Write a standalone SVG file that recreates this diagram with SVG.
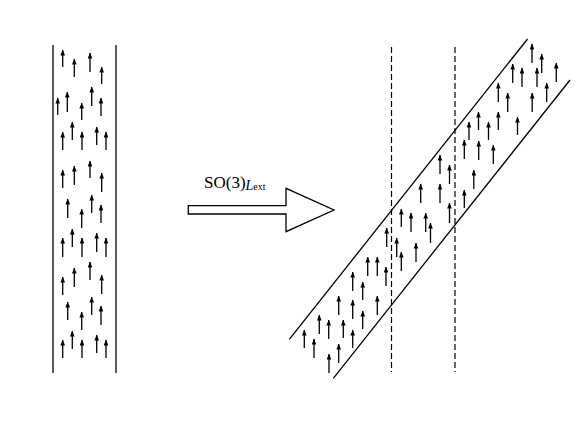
<svg xmlns="http://www.w3.org/2000/svg" width="581" height="436" viewBox="0 0 581 436">
<style>
.ln{stroke:#000;stroke-width:1.3;fill:none}
.dl{stroke:#000;stroke-width:1.2;fill:none;stroke-dasharray:6,3}
.ar{stroke:#000;stroke-width:1.3;fill:none;marker-end:url(#ah)}
.tx{font-family:"Liberation Serif","Times New Roman",serif;fill:#000}
</style>
<defs>
<marker id="ah" viewBox="0 0 6 4.6" refX="5.5" refY="2.3" markerWidth="6" markerHeight="4.6" markerUnits="userSpaceOnUse" orient="auto">
<path d="M0,0 L6,2.3 L0,4.6 z" fill="#000"/>
</marker>
</defs>
<rect width="581" height="436" fill="#fff"/>
<g id="left-column">
<line class="ln" x1="53" y1="45" x2="53" y2="373"/>
<line class="ln" x1="116" y1="45" x2="116" y2="373"/>
<g id="left-spins">
<line class="ar" x1="62.7" y1="67" x2="62.7" y2="50"/>
<line class="ar" x1="74.3" y1="77" x2="74.3" y2="59"/>
<line class="ar" x1="90" y1="72" x2="90" y2="53"/>
<line class="ar" x1="101.7" y1="84" x2="101.7" y2="67"/>
<line class="ar" x1="57.7" y1="115" x2="57.7" y2="98"/>
<line class="ar" x1="67.3" y1="112" x2="67.3" y2="92"/>
<line class="ar" x1="81.7" y1="120" x2="81.7" y2="103"/>
<line class="ar" x1="91.7" y1="106" x2="91.7" y2="87"/>
<line class="ar" x1="101" y1="116" x2="101" y2="98"/>
<line class="ar" x1="62.7" y1="150" x2="62.7" y2="132"/>
<line class="ar" x1="72.3" y1="140" x2="72.3" y2="122"/>
<line class="ar" x1="82" y1="150" x2="82" y2="132"/>
<line class="ar" x1="96.7" y1="145" x2="96.7" y2="127"/>
<line class="ar" x1="106" y1="150" x2="106" y2="132"/>
<line class="ar" x1="62.7" y1="188" x2="62.7" y2="170"/>
<line class="ar" x1="74.3" y1="185" x2="74.3" y2="166"/>
<line class="ar" x1="90" y1="178" x2="90" y2="161"/>
<line class="ar" x1="101.7" y1="192" x2="101.7" y2="173"/>
<line class="ar" x1="67.7" y1="218" x2="67.7" y2="199"/>
<line class="ar" x1="81.7" y1="228" x2="81.7" y2="209"/>
<line class="ar" x1="91.7" y1="213" x2="91.7" y2="195"/>
<line class="ar" x1="101" y1="223" x2="101" y2="205"/>
<line class="ar" x1="62.7" y1="257" x2="62.7" y2="238"/>
<line class="ar" x1="72.3" y1="247" x2="72.3" y2="229"/>
<line class="ar" x1="82" y1="257" x2="82" y2="238"/>
<line class="ar" x1="96.7" y1="252" x2="96.7" y2="233"/>
<line class="ar" x1="106" y1="257" x2="106" y2="238"/>
<line class="ar" x1="62.7" y1="295" x2="62.7" y2="277"/>
<line class="ar" x1="74.3" y1="287" x2="74.3" y2="268"/>
<line class="ar" x1="90" y1="280" x2="90" y2="262"/>
<line class="ar" x1="101.7" y1="294" x2="101.7" y2="275"/>
<line class="ar" x1="67.7" y1="320" x2="67.7" y2="302"/>
<line class="ar" x1="81.7" y1="330" x2="81.7" y2="312"/>
<line class="ar" x1="91.7" y1="315" x2="91.7" y2="297"/>
<line class="ar" x1="101" y1="325" x2="101" y2="306"/>
<line class="ar" x1="62.7" y1="358" x2="62.7" y2="340"/>
<line class="ar" x1="72.3" y1="349" x2="72.3" y2="331"/>
<line class="ar" x1="82" y1="358" x2="82" y2="340"/>
<line class="ar" x1="96.7" y1="353" x2="96.7" y2="335"/>
<line class="ar" x1="106" y1="358" x2="106" y2="340"/>
</g>
</g>
<g id="transform-arrow">
<path class="ln" d="M188.3,205.7 H286 V188.3 L334,210 L286,231.7 V214 H188.3 Z" fill="#fff"/>
<text class="tx" x="204" y="187.5" font-size="17">SO(3)<tspan font-style="italic" font-size="14" dy="2">L</tspan><tspan font-size="10" dy="0.5">ext</tspan></text>
</g>
<g id="right-band">
<line class="dl" x1="391.5" y1="47" x2="391.5" y2="372"/>
<line class="dl" x1="455" y1="47" x2="455" y2="372"/>
<line class="ln" x1="289.3" y1="339.3" x2="527.5" y2="39"/>
<line class="ln" x1="333.3" y1="378.3" x2="570" y2="80"/>
<g id="right-spins">
<line class="ar" x1="304.3" y1="348" x2="304.3" y2="330"/>
<line class="ar" x1="314" y1="358" x2="314" y2="339"/>
<line class="ar" x1="319.3" y1="334" x2="319.3" y2="315"/>
<line class="ar" x1="328.7" y1="339" x2="328.7" y2="320"/>
<line class="ar" x1="329" y1="373" x2="329" y2="354"/>
<line class="ar" x1="338.7" y1="315" x2="338.7" y2="296"/>
<line class="ar" x1="338.7" y1="363" x2="338.7" y2="344"/>
<line class="ar" x1="343.3" y1="338" x2="343.3" y2="320"/>
<line class="ar" x1="352.7" y1="291" x2="352.7" y2="272"/>
<line class="ar" x1="352.7" y1="319" x2="352.7" y2="300"/>
<line class="ar" x1="352.7" y1="348" x2="352.7" y2="330"/>
<line class="ar" x1="362.7" y1="300" x2="362.7" y2="282"/>
<line class="ar" x1="362.7" y1="329" x2="362.7" y2="311"/>
<line class="ar" x1="367.7" y1="276" x2="367.7" y2="257"/>
<line class="ar" x1="377.3" y1="276" x2="377.3" y2="257"/>
<line class="ar" x1="377.3" y1="315" x2="377.3" y2="296"/>
<line class="ar" x1="386" y1="286" x2="386" y2="267"/>
<line class="ar" x1="386.7" y1="247" x2="386.7" y2="228"/>
<line class="ar" x1="396.7" y1="257" x2="396.7" y2="238"/>
<line class="ar" x1="401.3" y1="227" x2="401.3" y2="209"/>
<line class="ar" x1="401.3" y1="271" x2="401.3" y2="252"/>
<line class="ar" x1="411" y1="232" x2="411" y2="213"/>
<line class="ar" x1="416" y1="262" x2="416" y2="243"/>
<line class="ar" x1="420.7" y1="203" x2="420.7" y2="184"/>
<line class="ar" x1="425.7" y1="232" x2="425.7" y2="213"/>
<line class="ar" x1="430.5" y1="243" x2="430.5" y2="223"/>
<line class="ar" x1="440" y1="174" x2="440" y2="155"/>
<line class="ar" x1="440" y1="203" x2="440" y2="184"/>
<line class="ar" x1="449.5" y1="184" x2="449.5" y2="165"/>
<line class="ar" x1="449.5" y1="223" x2="449.5" y2="203"/>
<line class="ar" x1="464.3" y1="159" x2="464.3" y2="140"/>
<line class="ar" x1="464.3" y1="208" x2="464.3" y2="190"/>
<line class="ar" x1="473.8" y1="189" x2="473.8" y2="170"/>
<line class="ar" x1="478.7" y1="160" x2="478.7" y2="141"/>
<line class="ar" x1="493.3" y1="164" x2="493.3" y2="145"/>
<line class="ar" x1="469" y1="140" x2="469" y2="122"/>
<line class="ar" x1="478.5" y1="130" x2="478.5" y2="112"/>
<line class="ar" x1="488.5" y1="140" x2="488.5" y2="122"/>
<line class="ar" x1="498.3" y1="130" x2="498.3" y2="112"/>
<line class="ar" x1="498.3" y1="102" x2="498.3" y2="83"/>
<line class="ar" x1="507.7" y1="112" x2="507.7" y2="93"/>
<line class="ar" x1="512.7" y1="83" x2="512.7" y2="64"/>
<line class="ar" x1="517.5" y1="135" x2="517.5" y2="117"/>
<line class="ar" x1="522" y1="87" x2="522" y2="68"/>
<line class="ar" x1="532" y1="63" x2="532" y2="44"/>
<line class="ar" x1="532.2" y1="112" x2="532.2" y2="93"/>
<line class="ar" x1="537" y1="87" x2="537" y2="68"/>
<line class="ar" x1="541.7" y1="73" x2="541.7" y2="54"/>
<line class="ar" x1="546.7" y1="102" x2="546.7" y2="83"/>
<line class="ar" x1="556.3" y1="82" x2="556.3" y2="63"/>
</g>
</g>
</svg>
